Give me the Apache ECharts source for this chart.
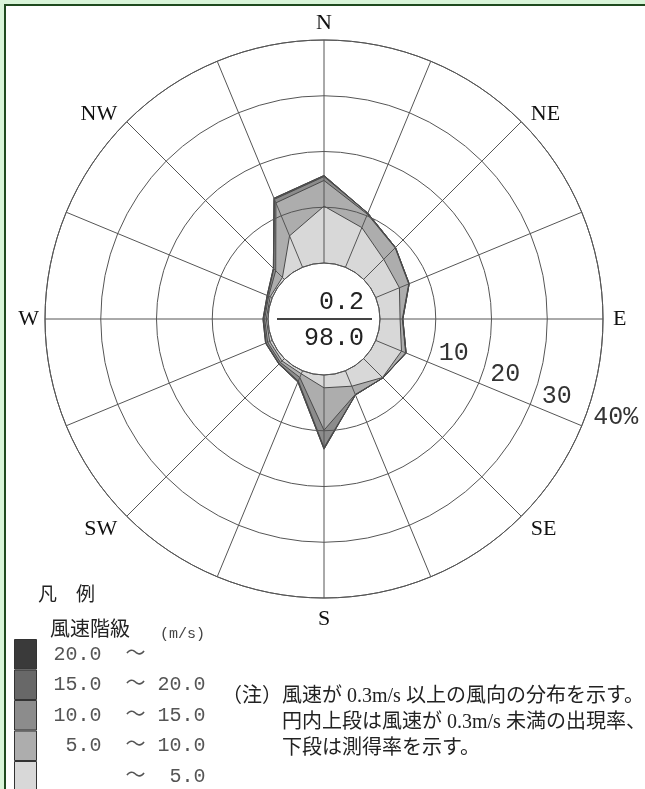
<!DOCTYPE html>
<html><head><meta charset="utf-8">
<script src="https://cdn.jsdelivr.net/npm/echarts@6/dist/echarts.min.js"></script>
<style>
html,body{margin:0;padding:0;background:#d9f5d9;width:645px;height:789px;overflow:hidden}
#frame{position:absolute;left:4px;top:4px;width:700px;height:900px;border-left:2px solid #1f4a1f;border-top:2px solid #1f4a1f;background:#fff}
#main{position:absolute;left:0;top:0;width:645px;height:789px}
</style></head><body><div id="frame"></div><div id="main"></div>
<script>
// ---- data ----
const directions = ['N','NNE','NE','ENE','E','ESE','SE','SSE','S','SSW','SW','WSW','W','WNW','NW','NNW'];
const directionTickLabels = ['N','NE','E','SE','S','SW','W','NW'];
const radiusTickLabels = ['10','20','30','40%'];
const speedClassLabels = ['20.0  〜','15.0  〜 20.0','10.0  〜 15.0',' 5.0  〜 10.0','      〜  5.0'];
const calmRate = '0.2';
const measuredRate = '98.0';
// frequency (%) by speed class, per direction N..NNW
const speed0to5   = [10.2,7.7,5.1,4.6,3.6,5.0,4.8,3.0,2.3,0.6,0.6,0.5,0.3,0.4,0.5,6.1];
const speed5to10  = [4.6,2.6,2.9,1.8,0.4,0.8,0.1,1.6,7.6,0.7,0.4,0.4,0.3,0.3,1.7,6.4];
const speed10to15 = [0.7,0.2,0.1,0.1,0.1,0.1,0.0,0.1,3.1,0.7,0.3,0.3,0.2,0.2,0.5,0.7];
const speed15to20 = [0.2,0.0,0.0,0.0,0.0,0.0,0.0,0.0,0.3,0.2,0.1,0.1,0.1,0.1,0.1,0.2];
const speed20up   = [0,0,0,0,0,0,0,0,0,0,0,0,0,0,0,0];
const legendTitle = '凡　例';
const legendSubTitle = '風速階級';
const legendUnit = '(m/s)';
const noteLines = ['（注）風速が 0.3m/s 以上の風向の分布を示す。','円内上段は風速が 0.3m/s 未満の出現率、','下段は測得率を示す。'];

// ---- styles ----
const classColors = ['#3a3a3a','#686868','#8c8c8c','#adadad','#d8d8d8'];
const CX = 324, CY = 319;
// per-direction label nudges (padding: top,right,bottom,left)
const dirLabelPad = {
  N: [0,0,11,0], NE: [0,0,0,13], E: [0,0,0,15], SE: [5,0,0,13],
  S: [15,0,0,0], SW: [5,13,0,0], W: [0,11,0,0], NW: [0,13,0,0]
};
const dirRich = {};
Object.keys(dirLabelPad).forEach(k => {
  dirRich[k] = {padding: dirLabelPad[k], fontFamily: '"Liberation Serif",serif', fontSize: 22, color: '#111'};
});

const classesTopDown = [speed20up, speed15to20, speed10to15, speed5to10, speed0to5];
const series = classesTopDown.map((arr, k) => {
  const cum = directions.map((d, i) => {
    let s = 0; for (let j = k; j < classesTopDown.length; j++) s += classesTopDown[j][i];
    return +s.toFixed(2);
  });
  const data = directions.map((d, i) => [cum[i], i * 22.5]);
  data.push([cum[0], 360]);
  return {
    name: speedClassLabels[k], type: 'line', coordinateSystem: 'polar', polarIndex: 0,
    data, symbol: 'none', smooth: false, z: 2, silent: true,
    itemStyle: {color: classColors[k]},
    lineStyle: {color: '#4a4a4a', width: 1},
    areaStyle: {color: classColors[k], opacity: 1}
  };
});

const chart = echarts.init(document.getElementById('main'), null, {renderer: 'canvas'});
const mono = '"Liberation Mono","Noto Sans CJK JP",monospace';
const noteFont = '20px "Liberation Serif","Noto Sans CJK JP"';
chart.setOption({
  animation: false,
  polar: [
    {center: [CX, CY], radius: [56, 279]},
    {center: [CX, CY], radius: [56, 279]}
  ],
  angleAxis: [
    {polarIndex: 0, type: 'value', min: 0, max: 360, interval: 22.5, startAngle: 90, clockwise: true, z: 10,
     axisLine: {show: true, lineStyle: {color: '#555', width: 1}},
     axisTick: {show: false},
     splitLine: {show: true, lineStyle: {color: '#555', width: 1}},
     axisLabel: {show: true, margin: -5, color: '#111', fontFamily: '"Liberation Serif",serif', fontSize: 22, rich: dirRich,
       formatter: v => { const i = Math.round(v / 22.5); if (i % 2 || i >= 16) return ''; const t = directionTickLabels[i / 2]; return '{' + t + '|' + t + '}'; }}},
    {polarIndex: 1, type: 'value', min: 0, max: 360, startAngle: -22.5, clockwise: true,
     axisLine: {show: false}, axisTick: {show: false}, splitLine: {show: false}, axisLabel: {show: false}}
  ],
  radiusAxis: [
    {polarIndex: 0, type: 'value', min: 0, max: 40, interval: 10, z: 10,
     axisLine: {show: false}, axisTick: {show: false}, axisLabel: {show: false},
     splitLine: {show: true, lineStyle: {color: '#555', width: 1}}},
    {polarIndex: 1, type: 'value', min: 0, max: 40, interval: 10, z: 10,
     axisLine: {show: false}, axisTick: {show: false}, splitLine: {show: false},
     axisLabel: {show: true, margin: 9, padding: [0, 0, 0, 8], color: '#333', fontFamily: mono, fontSize: 25,
       formatter: v => { const i = Math.round(v / 10); return i >= 1 ? radiusTickLabels[i - 1] : ''; }}}
  ],
  legend: {
    data: speedClassLabels, orient: 'vertical', left: 14, top: 639, height: 175, padding: 0,
    itemWidth: 22, itemHeight: 29.5, itemGap: 0, icon: 'rect', selectedMode: false,
    itemStyle: {borderColor: '#333', borderWidth: 1},
    textStyle: {fontFamily: mono, fontSize: 20, color: '#555'},
    formatter: n => ' ' + n
  },
  graphic: [
    {type: 'text', x: 364, y: 302, z: 20, style: {text: calmRate, font: '25px ' + mono, fill: '#222', align: 'right', verticalAlign: 'middle'}},
    {type: 'text', x: 364, y: 338, z: 20, style: {text: measuredRate, font: '25px ' + mono, fill: '#222', align: 'right', verticalAlign: 'middle'}},
    {type: 'line', z: 20, shape: {x1: 277, y1: CY, x2: 372, y2: CY}, style: {stroke: '#444', lineWidth: 2}},
    {type: 'text', x: 38, y: 594, style: {text: legendTitle, font: '19px "Noto Sans CJK JP"', fill: '#222', verticalAlign: 'middle'}},
    {type: 'text', x: 50, y: 628, style: {text: legendSubTitle, font: '20px "Noto Sans CJK JP"', fill: '#222', verticalAlign: 'middle'}},
    {type: 'text', x: 160, y: 634, style: {text: legendUnit, font: '15px ' + mono, fill: '#444', verticalAlign: 'middle'}},
    {type: 'text', x: 222, y: 697, style: {text: noteLines[0], font: noteFont, fill: '#222', verticalAlign: 'middle'}},
    {type: 'text', x: 282, y: 723, style: {text: noteLines[1], font: noteFont, fill: '#222', verticalAlign: 'middle'}},
    {type: 'text', x: 282, y: 749, style: {text: noteLines[2], font: noteFont, fill: '#222', verticalAlign: 'middle'}}
  ],
  series
});
</script></body></html>
